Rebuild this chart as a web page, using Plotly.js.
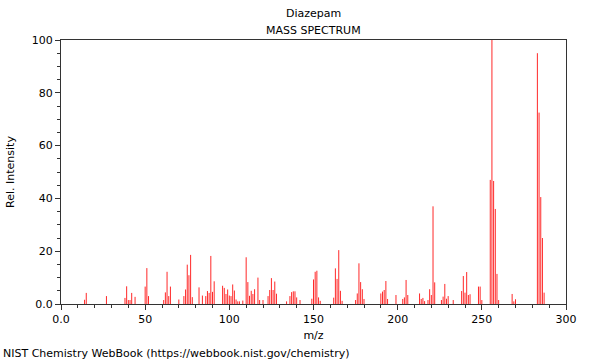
<!DOCTYPE html>
<html>
<head>
<meta charset="utf-8">
<script src="https://cdn.plot.ly/plotly-3.0.1.min.js"></script>
<style>html,body{margin:0;padding:0;background:#fff;}#chart{width:600px;height:360px;}</style>
</head>
<body>
<div id="chart"></div>
<script>
const mz = [14,15,27,38,39,40,41,42,44,50,51,52,61,62,63,64,65,70,73,74,75,76,77,78,82,84,86,87,88,89,90,91,96,97,98,99,100,101,102,103,104,105,106,108,110,111,112,113,114,115,117,118,120,123,124,125,126,127,128,134,136,137,138,139,140,142,149,150,151,152,153,154,162,163,164,165,166,167,175,176,177,178,179,180,190,191,192,193,194,199,203,204,205,206,213,214,215,216,218,219,220,221,222,226,227,228,229,230,233,238,239,240,241,242,243,248,249,250,255,256,257,258,259,260,268,269,270,283,284,285,286,287];
const intensity = [1.6,4.2,3,2.3,6.7,1.5,1.5,4.2,2.7,6.6,13.6,3,1.5,4.4,12.2,3,6.6,1.7,3,5.5,14.9,10.9,18.6,2.6,6.3,3.2,3,4.9,4.2,18.2,4.6,8.6,6.9,6.1,3.8,5.5,3.2,3,7.4,5.1,1.7,1,1,1.3,17.7,8.3,3.1,5,3.8,5.6,10,1.5,1.5,3,5.3,9.8,5.3,8.5,3.9,1,3,4.5,4.8,4.8,2.5,1.5,2,9.3,12.2,12.6,2.5,1.2,2.4,13.5,9.5,20.4,5,1.2,1.5,4,15.4,8.3,5.6,1.9,4,4.7,5.3,8.7,1.9,3.4,1.9,2.5,9.1,3.4,4,1.9,2.3,1.1,1.5,5.6,3.4,37,8.2,1.5,2.8,7.6,2,3,1.5,4.9,10.6,4.3,12.1,3.4,3.7,6.6,6.6,1.5,47,100,46.6,36,11.4,1.5,3.8,1,1.8,95,72.5,40.5,25,4.3];
const xTickVals = [0,50,100,150,200,250,300];
const xTickText = ["0.0","50","100","150","200","250","300"];
const yTickVals = [0,20,40,60,80,100];
const yTickText = ["0.0","20","40","60","80","100"];

const xs = [], ys = [];
mz.forEach((m, i) => { xs.push(m, m, null); ys.push(0, intensity[i], null); });

const font = {family: "DejaVu Sans, sans-serif", size: 11, color: "#000"};
const trace = {x: xs, y: ys, type: "scatter", mode: "lines",
  line: {color: "rgb(255,40,40)", width: 1}, hoverinfo: "skip", showlegend: false};

const layout = {
  width: 600, height: 360,
  margin: {l: 61, r: 34, t: 40, b: 56},
  paper_bgcolor: "#fff", plot_bgcolor: "#fff",
  font: font,
  showlegend: false,
  xaxis: {range: [0, 300], tickvals: xTickVals, ticktext: xTickText,
    ticks: "outside", ticklen: 5, tickcolor: "#333", tickwidth: 1,
    showline: true, linecolor: "#333", linewidth: 1, mirror: true,
    showgrid: false, zeroline: false, tickfont: font,
    minor: {dtick: 10, tick0: 0, ticks: "outside", ticklen: 3, tickcolor: "#333", showgrid: false},
    title: {text: "m/z", font: font, standoff: 6}},
  yaxis: {range: [0, 100], tickvals: yTickVals, ticktext: yTickText,
    ticks: "outside", ticklen: 5, tickcolor: "#333", tickwidth: 1,
    showline: true, linecolor: "#333", linewidth: 1, mirror: true,
    showgrid: false, zeroline: false, tickfont: font,
    minor: {dtick: 5, tick0: 0, ticks: "outside", ticklen: 3, tickcolor: "#333", showgrid: false},
    title: {text: "Rel. Intensity", font: font, standoff: 14}},
  annotations: [
    {text: "Diazepam", xref: "paper", yref: "paper", x: 0.5, y: 1.0, yshift: 27, xanchor: "center", yanchor: "middle", showarrow: false, font: font},
    {text: "MASS SPECTRUM", xref: "paper", yref: "paper", x: 0.5, y: 1.0, yshift: 10, xanchor: "center", yanchor: "middle", showarrow: false, font: font},
    {text: "NIST Chemistry WebBook (https://webbook.nist.gov/chemistry)", xref: "paper", yref: "paper", x: 0, xshift: -60, y: 0, yshift: -49, xanchor: "left", yanchor: "middle", showarrow: false, font: font}
  ]
};

Plotly.newPlot("chart", [trace], layout, {staticPlot: true, displayModeBar: false});
</script>
</body>
</html>
